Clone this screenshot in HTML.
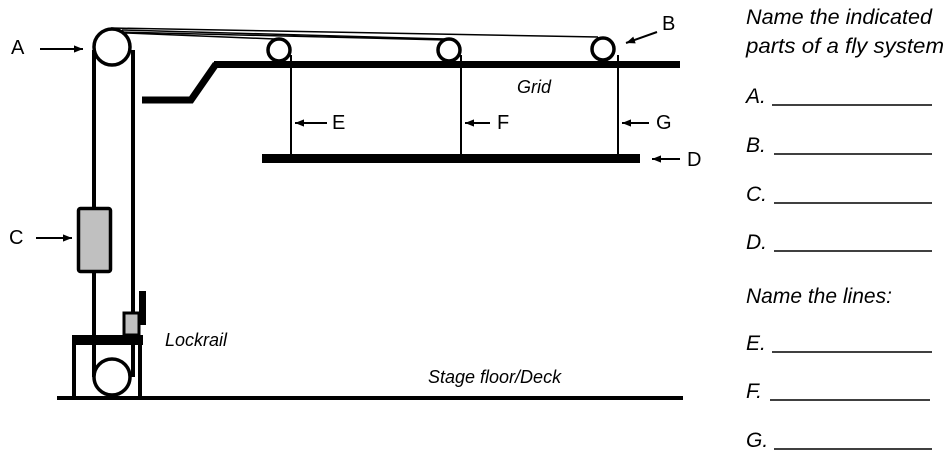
<!DOCTYPE html>
<html><head><meta charset="utf-8"><style>
html,body{margin:0;padding:0;background:#fff;}
svg{display:block;}
text{font-family:"Liberation Sans",Arial,sans-serif;fill:#000;}
.i{font-style:italic;font-size:21px;}
.l{font-size:20px;}
.s{font-style:italic;font-size:18px;}
</style></head><body>
<svg width="950" height="464" viewBox="0 0 950 464" xmlns="http://www.w3.org/2000/svg">
<defs><marker id="ah" viewBox="0 0 10 10" refX="10" refY="5" markerWidth="12" markerHeight="9" markerUnits="userSpaceOnUse" orient="auto"><path d="M0,1 L10,5 L0,9 z" fill="#000"/></marker></defs>
<g stroke="#000" stroke-width="1.5" fill="none">
<path d="M111,28 L598,37"/>
<path d="M122,30 L446,39"/>
<path d="M126,33 L275,39"/>
<path d="M119,32 L446,40"/>
</g>
<line x1="94" y1="50" x2="94" y2="377" stroke="#000" stroke-width="4"/>
<line x1="133" y1="50" x2="133" y2="377" stroke="#000" stroke-width="4"/>
<circle cx="112" cy="47" r="18" fill="#fff" stroke="#000" stroke-width="3.5"/>
<circle cx="112" cy="377" r="18" fill="#fff" stroke="#000" stroke-width="3.5"/>
<rect x="214" y="61" width="466" height="7" fill="#000"/>
<path d="M142,100 L191,100 L216,64" fill="none" stroke="#000" stroke-width="7"/>
<g stroke="#000" stroke-width="2">
<line x1="291" y1="55" x2="291" y2="155"/>
<line x1="461" y1="55" x2="461" y2="155"/>
<line x1="618" y1="55" x2="618" y2="155"/>
</g>
<circle cx="279" cy="50" r="11" fill="#fff" stroke="#000" stroke-width="3.5"/>
<circle cx="449" cy="50" r="11" fill="#fff" stroke="#000" stroke-width="3.5"/>
<circle cx="603" cy="49" r="11" fill="#fff" stroke="#000" stroke-width="3.5"/>
<rect x="262" y="154" width="378" height="9" fill="#000"/>
<rect x="78.5" y="208.5" width="32" height="63" rx="2" fill="#c0c0c0" stroke="#000" stroke-width="3.5"/>
<rect x="124" y="313" width="15" height="22" fill="#c0c0c0" stroke="#000" stroke-width="3"/>
<rect x="139" y="291" width="7" height="34" fill="#000"/>
<rect x="72" y="335" width="71" height="10" fill="#000"/>
<line x1="74" y1="340" x2="74" y2="397" stroke="#000" stroke-width="4"/>
<line x1="140" y1="340" x2="140" y2="397" stroke="#000" stroke-width="4"/>
<rect x="57" y="396" width="626" height="4" fill="#000"/>
<g stroke="#000" stroke-width="2" marker-end="url(#ah)">
<line x1="40" y1="49" x2="83" y2="49"/>
<line x1="36" y1="238" x2="72" y2="238"/>
<line x1="657" y1="32" x2="626" y2="43"/>
<line x1="327" y1="123" x2="295" y2="123"/>
<line x1="490" y1="123" x2="465" y2="123"/>
<line x1="649" y1="123" x2="622" y2="123"/>
<line x1="680" y1="159" x2="652" y2="159"/>
</g>
<text class="l" x="11" y="54">A</text>
<text class="l" x="662" y="30">B</text>
<text class="l" x="9" y="244">C</text>
<text class="l" x="687" y="166">D</text>
<text class="l" x="332" y="129">E</text>
<text class="l" x="497" y="129">F</text>
<text class="l" x="656" y="129">G</text>
<text class="s" x="517" y="93">Grid</text>
<text class="s" x="165" y="346">Lockrail</text>
<text class="s" x="428" y="383">Stage floor/Deck</text>
<text class="i" x="746" y="24" textLength="186" lengthAdjust="spacingAndGlyphs">Name the indicated</text>
<text class="i" x="746" y="53" textLength="198" lengthAdjust="spacingAndGlyphs">parts of a fly system</text>
<text class="i" x="746" y="303">Name the lines:</text>
<g class="i">
<text class="i" x="746" y="103">A.</text>
<text class="i" x="746" y="152">B.</text>
<text class="i" x="746" y="201">C.</text>
<text class="i" x="746" y="249">D.</text>
<text class="i" x="746" y="350">E.</text>
<text class="i" x="746" y="398">F.</text>
<text class="i" x="746" y="447">G.</text>
</g>
<g stroke="#000" stroke-width="1.5">
<line x1="772" y1="105" x2="932" y2="105"/>
<line x1="774" y1="154" x2="932" y2="154"/>
<line x1="774" y1="203" x2="932" y2="203"/>
<line x1="774" y1="251" x2="932" y2="251"/>
<line x1="772" y1="352" x2="932" y2="352"/>
<line x1="770" y1="400" x2="930" y2="400"/>
<line x1="774" y1="449" x2="932" y2="449"/>
</g>
</svg>
</body></html>
